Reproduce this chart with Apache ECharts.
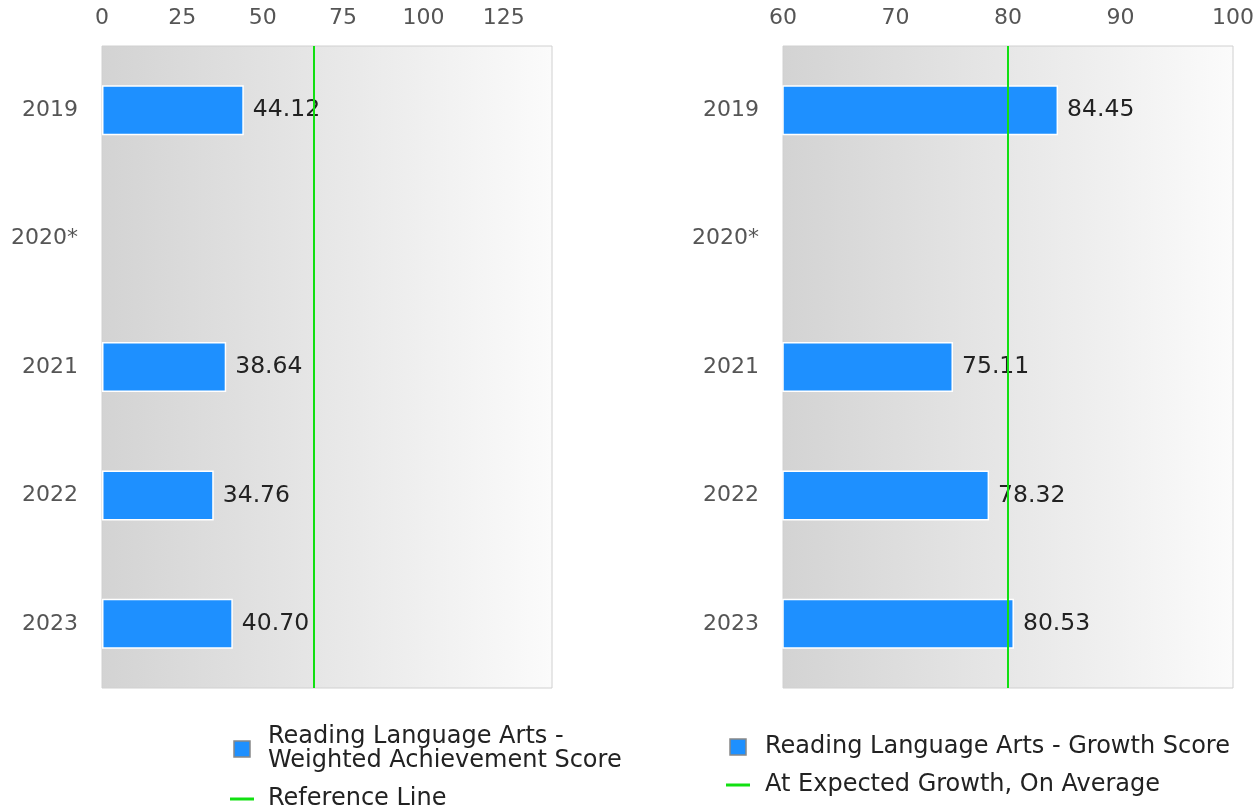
<!DOCTYPE html>
<html>
<head>
<meta charset="utf-8">
<script src="https://cdn.jsdelivr.net/npm/echarts@6/dist/echarts.min.js"></script>
<style>
  html, body { margin: 0; padding: 0; background: #fff; }
  #main { width: 1259px; height: 809px; }
</style>
</head>
<body>
<div id="main"></div>
<script>
// data
var years = ["2019", "2020*", "2021", "2022", "2023"];
var achievement = [44.12, null, 38.64, 34.76, 40.70];
var growth = [84.45, null, 75.11, 78.32, 80.53];
var achievementRef = 66;
var growthRef = 80;
var leftTicks = { min: 0, max: 140, interval: 25 };
var rightTicks = { min: 60, max: 100, interval: 10 };

var FONT = "'DejaVu Sans'";
var bgGrad = {
  type: "linear", x: 0, y: 0, x2: 1, y2: 0,
  colorStops: [{ offset: 0, color: "#d3d3d3" }, { offset: 1, color: "#fbfbfb" }]
};

function gridOpt(left) {
  return {
    left: left, top: 46, width: 450, height: 642,
    show: true, backgroundColor: bgGrad, borderColor: "#d0d0d0", borderWidth: 1
  };
}

function xAxisOpt(idx, t, showMax) {
  return {
    gridIndex: idx, type: "value", position: "top",
    min: t.min, max: t.max, interval: t.interval,
    axisLine: { show: false }, axisTick: { show: false }, splitLine: { show: false },
    axisLabel: {
      margin: 17, color: "#555", fontSize: 22, fontFamily: FONT,
      showMaxLabel: showMax
    }
  };
}

function yAxisOpt(idx) {
  return {
    gridIndex: idx, type: "category", data: years, inverse: true,
    axisLine: { show: false }, axisTick: { show: false },
    axisLabel: { margin: 24, color: "#555", fontSize: 22, fontFamily: FONT }
  };
}

function barSeries(name, idx, data) {
  return {
    name: name, type: "bar", xAxisIndex: idx, yAxisIndex: idx,
    data: data, barWidth: 50,
    itemStyle: { color: "#1e90ff", borderColor: "#fff", borderWidth: 1.5 },
    label: {
      show: true, position: "right", distance: 9,
      color: "#222", fontSize: 23.5, fontFamily: FONT,
      formatter: function (p) { return p.value.toFixed(2); }
    }
  };
}

function refSeries(name, idx, v) {
  return {
    name: name, type: "line", xAxisIndex: idx, yAxisIndex: idx,
    data: [], color: "#11e011",
    markLine: {
      silent: true, symbol: "none", label: { show: false },
      lineStyle: { color: "#11e011", width: 2, type: "solid" },
      data: [{ xAxis: v }]
    }
  };
}

var squareIcon = "path://M0,0 L10,0 L10,10 L0,10 Z";
var lineIcon = "path://M0,0 L24,0 L24,3 L0,3 Z";
var barLegendStyle = { borderColor: "#888", borderWidth: 1.5 };

var chart = echarts.init(document.getElementById("main"), null, { renderer: "canvas" });
chart.setOption({
  animation: false,
  textStyle: { fontFamily: FONT },
  grid: [gridOpt(102), gridOpt(783)],
  xAxis: [xAxisOpt(0, leftTicks, false), xAxisOpt(1, rightTicks, true)],
  yAxis: [yAxisOpt(0), yAxisOpt(1)],
  legend: [
    {
      orient: "vertical", left: 225, top: 720, itemGap: 14,
      itemWidth: 24, itemHeight: 16,
      textStyle: { fontSize: 24, color: "#222", fontFamily: FONT, lineHeight: 24, padding: [0, 0, 0, 9] },
      data: [
        { name: "Reading Language Arts -\nWeighted Achievement Score", icon: squareIcon, itemStyle: barLegendStyle },
        { name: "Reference Line", icon: lineIcon }
      ]
    },
    {
      orient: "vertical", left: 721, top: 730, itemGap: 14,
      itemWidth: 24, itemHeight: 16,
      textStyle: { fontSize: 24, color: "#222", fontFamily: FONT, lineHeight: 24, padding: [0, 0, 0, 10] },
      data: [
        { name: "Reading Language Arts - Growth Score", icon: squareIcon, itemStyle: barLegendStyle },
        { name: "At Expected Growth, On Average", icon: lineIcon }
      ]
    }
  ],
  series: [
    barSeries("Reading Language Arts -\nWeighted Achievement Score", 0, achievement),
    refSeries("Reference Line", 0, achievementRef),
    barSeries("Reading Language Arts - Growth Score", 1, growth),
    refSeries("At Expected Growth, On Average", 1, growthRef)
  ]
});
</script>
</body>
</html>
